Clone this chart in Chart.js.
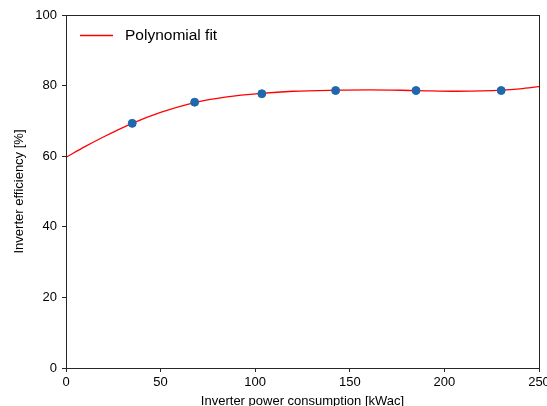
<!DOCTYPE html>
<html>
<head>
<meta charset="utf-8">
<script src="https://cdn.jsdelivr.net/npm/chart.js@4/dist/chart.umd.min.js"></script>
<style>
  html, body { margin: 0; padding: 0; background: #fff; overflow: hidden; }
  #wrap { width: 560px; height: 420px; }
</style>
</head>
<body>
<div id="wrap"><canvas id="eff" width="560" height="420"></canvas></div>
<script>
// measured points
const powerKw = [35, 68, 103.5, 142.5, 185, 230];
const efficiency = [69.3, 75.3, 77.7, 78.6, 78.6, 78.6];

// polynomial fit curve
const fitX = [0, 10, 20, 35, 50, 68, 85, 103, 120, 142, 160, 185, 207, 220, 230, 240, 250];
const fitY = [59.7, 62.7, 65.5, 69.3, 72.4, 75.2, 76.8, 77.8, 78.4, 78.7, 78.8, 78.6, 78.4, 78.5, 78.7, 79.1, 79.7];

const xTicks = [0, 50, 100, 150, 200, 250];
const yTicks = [0, 20, 40, 60, 80, 100];

const fontFam = '"Liberation Sans", Arial, sans-serif';
const frameColor = '#262626';

const fitData = fitX.map((x, i) => ({x: x, y: fitY[i]}));
const ptData = powerKw.map((x, i) => ({x: x, y: efficiency[i]}));

// box around plot + legend inside the axes
const framePlugin = {
  id: 'frame',
  afterDraw(chart) {
    const {ctx, chartArea: a} = chart;
    ctx.save();
    ctx.strokeStyle = frameColor;
    ctx.lineWidth = 1;
    ctx.strokeRect(Math.round(a.left) + 0.5, Math.round(a.top) + 0.5,
      Math.round(a.right - a.left), Math.round(a.bottom - a.top));

    // legend
    const ds = chart.data.datasets[0];
    ctx.strokeStyle = ds.borderColor;
    ctx.lineWidth = 1.3;
    ctx.beginPath();
    ctx.moveTo(80, 35.5);
    ctx.lineTo(113, 35.5);
    ctx.stroke();
    ctx.fillStyle = '#000';
    ctx.font = '15.5px ' + fontFam;
    ctx.textBaseline = 'middle';
    ctx.fillText(ds.label, 125, 36);
    ctx.restore();
  }
};

new Chart(document.getElementById('eff'), {
  type: 'scatter',
  data: {
    datasets: [
      {
        type: 'line',
        label: 'Polynomial fit',
        data: fitData,
        borderColor: '#ff0000',
        borderWidth: 1.3,
        pointRadius: 0,
        cubicInterpolationMode: 'monotone',
        fill: false,
        order: 2
      },
      {
        label: 'Data',
        data: ptData,
        backgroundColor: '#1f68ad',
        borderColor: '#1f68ad',
        pointRadius: 4,
        order: 1
      }
    ]
  },
  options: {
    responsive: false,
    animation: false,
    layout: { padding: { left: 0, right: 21, top: 15, bottom: 0 } },
    plugins: { legend: { display: false }, tooltip: { enabled: false } },
    scales: {
      x: {
        type: 'linear',
        min: 0, max: 250,
        afterBuildTicks: s => { s.ticks = xTicks.map(v => ({value: v})); },
        afterFit: s => { s.height = 52; },
        grid: { display: true, drawOnChartArea: false, drawTicks: true, tickLength: 4, color: frameColor },
        border: { display: false },
        ticks: { color: '#000', font: { family: fontFam, size: 13 }, padding: 3, maxRotation: 0 },
        title: { display: true, text: 'Inverter power consumption [kWac]', color: '#000',
                 font: { family: fontFam, size: 13 }, padding: { top: 0, bottom: 11 } }
      },
      y: {
        min: 0, max: 100,
        afterBuildTicks: s => { s.ticks = yTicks.map(v => ({value: v})); },
        afterFit: s => { s.width = 66; },
        grid: { display: true, drawOnChartArea: false, drawTicks: true, tickLength: 4, color: frameColor },
        border: { display: false },
        ticks: { color: '#000', font: { family: fontFam, size: 13 }, padding: 5 },
        title: { display: true, text: 'Inverter efficiency [%]', color: '#000',
                 font: { family: fontFam, size: 13 }, padding: { top: 12, bottom: 0 } }
      }
    }
  },
  plugins: [framePlugin]
});
</script>
</body>
</html>
